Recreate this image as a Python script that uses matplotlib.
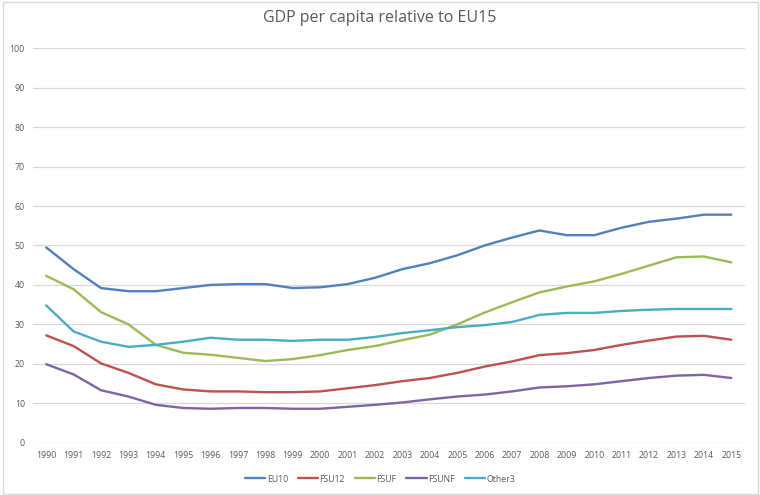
import matplotlib
matplotlib.use("Agg")
import matplotlib.pyplot as plt
from matplotlib.patches import Rectangle

years = list(range(1990, 2016))
series_names = ["EU10", "FSU12", "FSUF", "FSUNF", "Other3"]

eu10 = [49.5, 44.0, 39.2, 38.4, 38.4, 39.2, 40.0, 40.2, 40.2, 39.2, 39.4, 40.2, 41.8,
        44.0, 45.5, 47.5, 50.0, 52.0, 53.8, 52.6, 52.6, 54.5, 56.0, 56.8, 57.8, 57.8]
fsu12 = [27.2, 24.5, 20.1, 17.7, 14.8, 13.5, 13.0, 13.0, 12.8, 12.8, 13.0, 13.8, 14.6,
         15.6, 16.4, 17.7, 19.3, 20.6, 22.2, 22.7, 23.5, 24.8, 25.9, 26.9, 27.1, 26.1]
fsuf = [42.3, 38.9, 33.1, 30.0, 24.8, 22.8, 22.3, 21.5, 20.7, 21.2, 22.2, 23.5, 24.5,
        26.0, 27.4, 30.0, 33.0, 35.6, 38.1, 39.6, 40.9, 42.8, 44.9, 47.0, 47.2, 45.7]
fsunf = [19.9, 17.3, 13.3, 11.7, 9.6, 8.8, 8.6, 8.8, 8.8, 8.6, 8.6, 9.1, 9.6,
         10.2, 11.0, 11.7, 12.2, 13.0, 14.0, 14.3, 14.8, 15.6, 16.4, 17.0, 17.2, 16.4]
other3 = [34.8, 28.2, 25.6, 24.3, 24.8, 25.6, 26.6, 26.1, 26.1, 25.8, 26.1, 26.1, 26.8,
          27.8, 28.5, 29.3, 29.8, 30.6, 32.4, 32.9, 32.9, 33.4, 33.7, 33.9, 33.9, 33.9]

colors = ["#4F81BD", "#C0504D", "#9BBB59", "#8064A2", "#4BACC6"]
yticks = list(range(0, 101, 10))

plt.rcParams['font.family'] = ['Open Sans', 'DejaVu Sans']

W, H = 760, 495
fig = plt.figure(figsize=(W / 100, H / 100), dpi=100)

# plot area in pixel coordinates
left, right, top, bottom = 32.5, 745.0, 48.2, 442.7
ax = fig.add_axes([left / W, 1 - bottom / H, (right - left) / W, (bottom - top) / H])

x = list(range(len(years)))
for name, vals, c in zip(series_names, [eu10, fsu12, fsuf, fsunf, other3], colors):
    ax.plot(x, vals, color=c, linewidth=1.7, label=name, solid_capstyle='round')

ax.set_xlim(-0.5, len(years) - 0.5)
ax.set_ylim(0, 100)
ax.set_yticks(yticks)
ax.set_xticks(x)
ax.set_xticklabels([str(y) for y in years])
ax.grid(axis='y', color='#D9D9D9', linewidth=0.9)
ax.set_axisbelow(True)
for s in ax.spines.values():
    s.set_visible(False)
ax.tick_params(axis='both', length=0, labelsize=6.3, labelcolor='#595959')
ax.tick_params(axis='y', pad=5.5)
ax.tick_params(axis='x', pad=6)

fig.text(0.5, 1 - 18 / H, "GDP per capita relative to EU15", ha='center', va='center',
         fontsize=11.5, color='#595959')

leg = fig.legend(loc='center', bbox_to_anchor=(0.5, 1 - 479 / H), ncol=5, frameon=False,
                 fontsize=6.3, handlelength=2.3, columnspacing=1.15, handletextpad=0.15)
for t in leg.get_texts():
    t.set_color('#595959')

# chart frame
fig.patches.append(Rectangle((2.5 / W, 1.5 / H), (W - 5) / W, (H - 3.5) / H,
                             transform=fig.transFigure, fill=False,
                             edgecolor='#D9D9D9', linewidth=1.0))

fig.savefig("out.png", dpi=100)
